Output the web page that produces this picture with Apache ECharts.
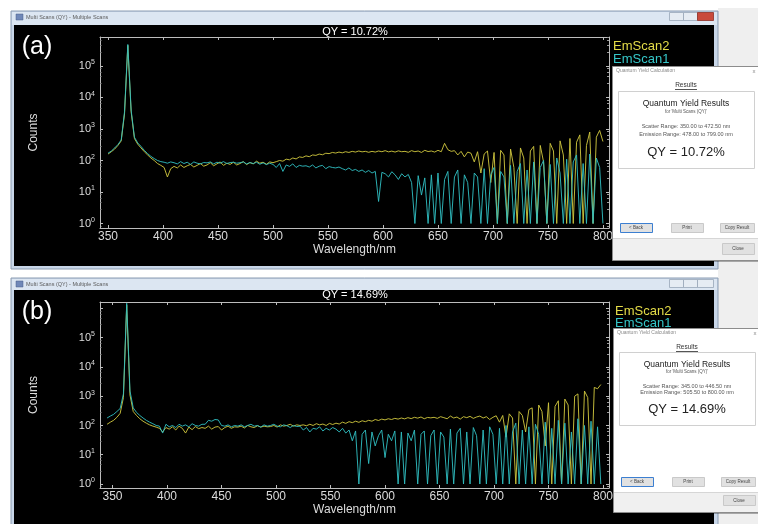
<!DOCTYPE html>
<html>
<head>
<meta charset="utf-8">
<title>Multi Scans (QY)</title>
<script src="https://cdn.jsdelivr.net/npm/echarts@6/dist/echarts.min.js"></script>
<style>
html, body { margin: 0; padding: 0; background: #fff; }
#chart { width: 758px; height: 524px; }
</style>
</head>
<body>
<div id="chart"></div>
<script>
// sampling grid (nm)
const wlStep = 3;
const wlStartA = 350;
const wlStartB = 345;

// panel (a) counts, 350..800 nm
const emScan2A = [
  160, 190, 230, 300, 420, 3000, 450000, 3500, 500, 330,
  250, 190, 150, 120, 100, 80, 70, 60, 30, 55,
  65, 58, 72, 60, 68, 75, 62, 70, 80, 66,
  72, 85, 68, 78, 90, 70, 82, 75, 88, 72,
  80, 92, 74, 86, 78, 95, 82, 88, 76, 90,
  85, 92, 100, 95, 110, 105, 120, 112, 130, 125,
  140, 132, 150, 145, 160, 152, 170, 165, 180, 172,
  185, 175, 190, 180, 195, 185, 200, 188, 195, 182,
  195, 185, 200, 190, 205, 188, 198, 185, 202, 190,
  195, 182, 205, 190, 200, 180, 210, 192, 200, 185,
  210, 190, 350, 220, 195, 205, 150, 195, 130, 185,
  170, 90, 190, 40, 160, 200, 20, 180, 1, 210,
  150, 1, 230, 60, 1, 250, 120, 1, 200, 280,
  1, 300, 90, 1, 350, 200, 1, 420, 150, 1,
  500, 1, 380, 650, 1, 300, 800, 1, 550, 900,
  400
];
const emScan1A = [
  170, 200, 250, 320, 450, 3500, 480000, 4000, 550, 360,
  280, 210, 165, 135, 115, 100, 92, 88, 82, 90,
  85, 78, 92, 80, 88, 75, 90, 82, 78, 86,
  84, 90, 78, 88, 82, 92, 80, 86, 88, 82,
  85, 90, 78, 86, 80, 88, 76, 84, 74, 82,
  75, 60, 80, 45, 72, 65, 78, 60, 70, 66,
  68, 62, 72, 58, 66, 70, 55, 64, 60, 58,
  62, 55, 50, 58, 48, 52, 45, 50, 42, 48,
  40, 45, 5, 42, 38, 30, 44, 35, 25, 38,
  30, 36, 20, 1, 33, 8, 28, 1, 35, 1,
  40, 1, 25, 45, 1, 30, 50, 1, 35, 20,
  1, 40, 30, 1, 55, 1, 35, 60, 1, 45,
  30, 1, 70, 1, 45, 80, 1, 50, 1, 90,
  1, 60, 100, 1, 75, 1, 120, 40, 1, 110,
  1, 90, 150, 1, 80, 1, 160, 1, 120, 60,
  1
];

// panel (b) counts, 345..798 nm
const emScan2B = [
  110, 130, 150, 190, 260, 900, 1300000, 1100, 300, 220,
  170, 140, 120, 105, 95, 88, 80, 60, 85, 75,
  90, 70, 95, 80, 55, 88, 72, 92, 78, 85,
  80, 95, 75, 88, 92, 70, 85, 95, 80, 90,
  88, 95, 82, 100, 90, 85, 98, 88, 95, 90,
  92, 100, 88, 105, 95, 100, 110, 95, 105, 100,
  105, 98, 110, 100, 115, 105, 112, 100, 118, 108,
  120, 112, 130, 118, 135, 125, 140, 128, 145, 135,
  150, 140, 160, 148, 165, 155, 170, 160, 175, 165,
  180, 168, 185, 172, 190, 178, 195, 170, 188, 182,
  190, 175, 200, 185, 170, 210, 180, 195, 165, 200,
  185, 205, 175, 195, 210, 180, 200, 160, 190, 215,
  130, 220, 40, 250, 180, 1, 300, 220, 60, 350,
  400, 1, 500, 300, 20, 600, 1, 450, 700, 1,
  800, 500, 1, 1000, 1200, 1, 1500, 900, 1, 2000,
  1800, 2500
];
const emScan1B = [
  180, 210, 240, 300, 380, 1200, 1500000, 1500, 400, 280,
  220, 180, 150, 130, 115, 100, 95, 55, 110, 90,
  100, 85, 110, 95, 105, 90, 115, 100, 95, 110,
  110, 150, 140, 160, 155, 100, 95, 105, 90, 100,
  95, 105, 90, 100, 110, 95, 100, 88, 105, 95,
  100, 110, 95, 90, 105, 98, 85, 100, 92, 95,
  70, 85, 60, 80, 75, 90, 65, 80, 70, 85,
  75, 60, 80, 55, 70, 30, 65, 1, 50, 70,
  5, 60, 20, 45, 70, 8, 50, 30, 65, 1,
  60, 1, 55, 30, 70, 1, 50, 65, 1, 45,
  70, 1, 60, 40, 1, 75, 1, 55, 80, 1,
  60, 1, 85, 45, 1, 70, 1, 90, 50, 1,
  80, 1, 100, 1, 60, 120, 1, 70, 1, 90,
  1, 110, 50, 1, 130, 1, 80, 1, 150, 1,
  120, 1, 60, 1, 170, 1, 100, 1, 140, 1,
  90, 1
];

const seriesNames = ['EmScan2', 'EmScan1'];
const qyTexts = ['QY = 10.72%', 'QY = 14.69%'];
const panelLabels = ['(a)', '(b)'];
const yDecades = [0, 1, 2, 3, 4, 5];
const scatterRanges = ['Scatter Range: 350.00 to 472.50 nm', 'Scatter Range: 345.00 to 446.50 nm'];
const emissionRanges = ['Emission Range: 478.00 to 799.00 nm', 'Emission Range: 505.50 to 800.00 nm'];

const YELLOW = '#cfc73e';
const CYAN = '#30bec1';
const AXIS = '#bdbdbd';
const LABEL = '#dcdcdc';
const FONT = 'Liberation Sans';

function toPairs(start, arr) {
  return arr.map((v, i) => [start + i * wlStep, v]);
}

// only label the listed decades, as 10^n
function logLabel(v) {
  const e = Math.log10(v);
  const r = Math.round(e);
  if (Math.abs(e - r) > 1e-3 || yDecades.indexOf(r) < 0) return '';
  return '{b|10}{s|' + r + '}';
}

const panels = [
  { grid: { left: 100, top: 37, width: 509, height: 191 }, xMin: 342.7, yMin: 0.72, yMax: 8.3e5 },
  { grid: { left: 100, top: 302, width: 509, height: 186 }, xMin: 338.5, yMin: 0.73, yMax: 1.66e6 }
];

const xAxes = [];
const yAxes = [];
panels.forEach((p, i) => {
  xAxes.push({
    gridIndex: i, type: 'value', min: p.xMin, max: 805.5, minInterval: 50, maxInterval: 50,
    axisLine: { lineStyle: { color: AXIS } },
    axisTick: { inside: true, length: 3, lineStyle: { color: AXIS } },
    splitLine: { show: false },
    axisLabel: {
      color: LABEL, fontSize: 12, fontFamily: FONT, margin: 3,
      formatter: v => (v % 50 === 0 ? String(v) : '')
    },
    name: 'Wavelength/nm', nameLocation: 'middle', nameGap: 14,
    nameTextStyle: { color: LABEL, fontSize: 12, fontFamily: FONT }
  });
  // top frame ticks
  xAxes.push({
    gridIndex: i, type: 'value', position: 'top', min: p.xMin, max: 805.5, minInterval: 50, maxInterval: 50,
    axisLine: { lineStyle: { color: AXIS } },
    axisTick: { inside: true, length: 3, lineStyle: { color: AXIS } },
    axisLabel: { show: false }, splitLine: { show: false }
  });
  yAxes.push({
    gridIndex: i, type: 'log', logBase: 10, min: p.yMin, max: p.yMax, splitNumber: 6,
    axisLine: { lineStyle: { color: AXIS } },
    axisTick: { inside: true, length: 3, lineStyle: { color: AXIS } },
    minorTick: { show: true, splitNumber: 5, length: 1.5, lineStyle: { color: '#8a8a8a' } },
    splitLine: { show: false },
    axisLabel: {
      margin: 5, formatter: logLabel,
      rich: {
        b: { fontSize: 11, color: LABEL, fontFamily: FONT, lineHeight: 14 },
        s: { fontSize: 7, color: LABEL, fontFamily: FONT, verticalAlign: 'top', lineHeight: 7 }
      }
    },
    name: 'Counts', nameLocation: 'middle', nameGap: 60, nameRotate: 90,
    nameTextStyle: { color: LABEL, fontSize: 12, fontFamily: FONT }
  });
  // right frame ticks
  yAxes.push({
    gridIndex: i, type: 'log', logBase: 10, position: 'right', min: p.yMin, max: p.yMax, splitNumber: 6,
    axisLine: { lineStyle: { color: AXIS } },
    axisTick: { inside: true, length: 3, lineStyle: { color: AXIS } },
    minorTick: { show: true, splitNumber: 5, length: 2, lineStyle: { color: '#9a9a9a' } },
    axisLabel: { show: false }, splitLine: { show: false }
  });
});

function lineSeries(name, color, axis, data) {
  return {
    name: name, type: 'line', xAxisIndex: axis, yAxisIndex: axis,
    data: data, showSymbol: false, symbol: 'none', silent: true,
    lineStyle: { color: color, width: 1, opacity: 0.92 }, itemStyle: { color: color }
  };
}

const series = [
  lineSeries(seriesNames[0], YELLOW, 0, toPairs(wlStartA, emScan2A)),
  lineSeries(seriesNames[1], CYAN, 0, toPairs(wlStartA, emScan1A)),
  lineSeries(seriesNames[0], YELLOW, 2, toPairs(wlStartB, emScan2B)),
  lineSeries(seriesNames[1], CYAN, 2, toPairs(wlStartB, emScan1B))
];

// ---- decoration helpers ----
function rect(x, y, w, h, style, z) {
  return { type: 'rect', shape: { x: x, y: y, width: w, height: h }, style: style, z: z, silent: true };
}
function text(x, y, str, size, fill, align, z, family) {
  return {
    type: 'text', x: x, y: y, z: z, silent: true,
    style: {
      text: str, fill: fill, font: size + 'px "' + (family || FONT) + '"',
      textAlign: align || 'center', textVerticalAlign: 'middle',
      align: align || 'center', verticalAlign: 'middle'
    }
  };
}
function hline(x1, x2, y, color, z) {
  return { type: 'line', shape: { x1: x1, y1: y, x2: x2, y2: y }, style: { stroke: color, lineWidth: 1 }, z: z, silent: true };
}
function button(x, y, w, h, label, focused) {
  return [
    rect(x + 0.5, y + 0.5, w, h, { fill: '#e1e1e1', stroke: focused ? '#3c7fd1' : '#c9c9c9', lineWidth: 1 }, 55),
    text(x + w / 2, y + h / 2 + 0.5, label, 4.5, '#444', 'center', 56)
  ];
}

function windowFrame(top, height, blackTop, red) {
  return [
    rect(11, top, 707, height, { fill: '#c8d6e8', stroke: '#8b9cb2', lineWidth: 1 }, -20),
    rect(12, top + 1, 705, blackTop - top - 1, { fill: '#dce6f2' }, -19),
    rect(14, blackTop, 700, top + height - blackTop - 3, { fill: '#000000' }, -18),
    rect(16, top + 3, 7, 6, { fill: '#7088b8', stroke: '#4a5f8a', lineWidth: 0.5 }, -17),
    text(26, top + 6, 'Multi Scans (QY) - Multiple Scans', 5.5, '#5a5a5a', 'left', -17),
    rect(669.5, top + 1.5, 14, 8, { fill: '#e6ecf3', stroke: '#98a6b8', lineWidth: 0.8 }, -17),
    rect(683.5, top + 1.5, 14, 8, { fill: '#e6ecf3', stroke: '#98a6b8', lineWidth: 0.8 }, -17),
    rect(697.5, top + 1.5, 16, 8, { fill: red ? '#c94a3c' : '#e6ecf3', stroke: red ? '#8f2e24' : '#98a6b8', lineWidth: 0.8 }, -17)
  ];
}

function dialog(L, d, idx) {
  const W = 150, H = d.bottom - d.top, cx = L + 74;
  return [
    rect(L + 2, d.top + 2, W, H, { fill: 'rgba(0,0,0,0.3)' }, 49),
    rect(L + 0.5, d.top + 0.5, W, H, { fill: '#ffffff', stroke: '#8c8c8c', lineWidth: 1 }, 50),
    rect(L + 1, d.sep, W - 1, d.bottom - d.sep, { fill: '#f0f0f0' }, 51),
    hline(L + 1, L + W, d.sep + 0.5, '#d6d6d6', 52),
    text(L + 4, d.title, 'Quantum Yield Calculation', 5, '#8a8a8a', 'left', 53),
    text(L + 142, d.title, 'x', 6, '#8a8a8a', 'center', 53),
    text(cx, d.results, 'Results', 6.5, '#333', 'center', 53),
    hline(cx - 11, cx + 11, d.results + 4.5, '#555', 53),
    rect(L + 6.5, d.boxT + 0.5, 136, d.boxB - d.boxT, { fill: '#ffffff', stroke: '#d0d0d0', lineWidth: 1 }, 52),
    text(cx, d.qyr, 'Quantum Yield Results', 8.5, '#222', 'center', 53),
    text(cx, d.forY, "for 'Multi Scans (QY)'", 4.5, '#555', 'center', 53),
    text(cx, d.scat, scatterRanges[idx], 5.5, '#555', 'center', 53),
    text(cx, d.emis, emissionRanges[idx], 5.5, '#555', 'center', 53),
    text(cx, d.qy, qyTexts[idx], 13, '#222', 'center', 53)
  ].concat(
    button(L + 8, d.btnT, 32, d.btnB - d.btnT, '< Back', true),
    button(L + 59, d.btnT, 32, d.btnB - d.btnT, 'Print', false),
    button(L + 108, d.btnT, 34, d.btnB - d.btnT, 'Copy Result', false),
    button(L + 110, d.closeT, 32, d.closeB - d.closeT, 'Close', false)
  );
}

const graphics = [].concat(
  [rect(0, 0, 758, 524, { fill: '#ffffff' }, -30), rect(718, 8, 40, 516, { fill: '#efefef' }, -29)],
  windowFrame(11, 258, 25, true),
  windowFrame(278, 250, 290, false),
  [
    text(37, 47, panelLabels[0], 25, '#ffffff', 'center', 5),
    text(37, 312, panelLabels[1], 25, '#ffffff', 'center', 5),
    text(613, 46, seriesNames[0], 13, '#e4dc48', 'left', 5),
    text(613, 59, seriesNames[1], 13, '#35c7c9', 'left', 5),
    text(615, 311, seriesNames[0], 13, '#e4dc48', 'left', 5),
    text(615, 323, seriesNames[1], 13, '#35c7c9', 'left', 5)
  ],
  dialog(612, { top: 66, title: 71, results: 85, boxT: 91, boxB: 168, qyr: 104, forY: 112, scat: 126, emis: 134, qy: 152, btnT: 223, btnB: 232, sep: 238, closeT: 243, closeB: 254, bottom: 260 }, 0),
  dialog(613, { top: 328, title: 333, results: 347, boxT: 352, boxB: 425, qyr: 365, forY: 372, scat: 386, emis: 392, qy: 409, btnT: 477, btnB: 486, sep: 492, closeT: 495, closeB: 505, bottom: 512 }, 1)
);

const myChart = echarts.init(document.getElementById('chart'), null, { renderer: 'canvas' });
const option = {
  animation: false,
  backgroundColor: '#ffffff',
  textStyle: { fontFamily: FONT },
  title: [
    { text: qyTexts[0], left: 355, top: 26, textAlign: 'center', padding: 0, textStyle: { color: '#ffffff', fontSize: 11, fontWeight: 'normal', fontFamily: FONT } },
    { text: qyTexts[1], left: 355, top: 289, textAlign: 'center', padding: 0, textStyle: { color: '#ffffff', fontSize: 11, fontWeight: 'normal', fontFamily: FONT } }
  ],
  grid: panels.map(p => Object.assign({ show: false, containLabel: false }, p.grid)),
  xAxis: xAxes,
  yAxis: yAxes,
  series: series,
  graphic: { elements: graphics }
};
myChart.setOption(option, true);
window.addEventListener('resize', () => {
  myChart.resize();
});
</script>
</body>
</html>
